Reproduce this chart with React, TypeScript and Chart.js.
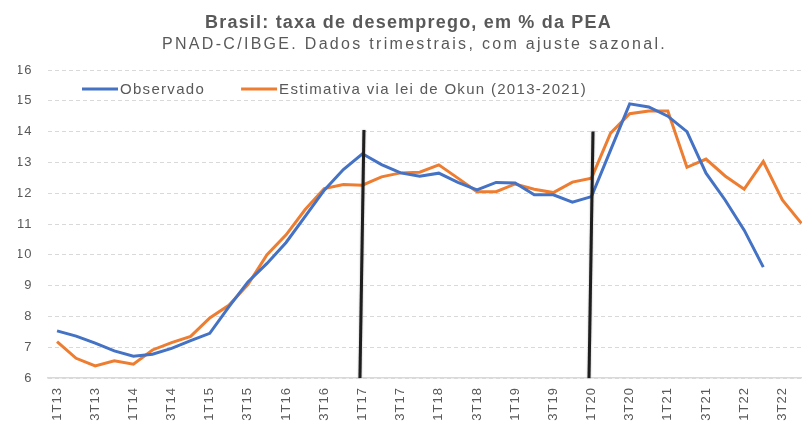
import React, { useEffect, useRef } from 'react';
import { Chart, registerables } from 'chart.js';

Chart.register(...registerables);

// ---------- data ----------
const quarters = [
  '1T13', '2T13', '3T13', '4T13',
  '1T14', '2T14', '3T14', '4T14',
  '1T15', '2T15', '3T15', '4T15',
  '1T16', '2T16', '3T16', '4T16',
  '1T17', '2T17', '3T17', '4T17',
  '1T18', '2T18', '3T18', '4T18',
  '1T19', '2T19', '3T19', '4T19',
  '1T20', '2T20', '3T20', '4T20',
  '1T21', '2T21', '3T21', '4T21',
  '1T22', '2T22', '3T22', '4T22',
];

const observado = [
  7.53, 7.36, 7.13, 6.88,
  6.71, 6.77, 6.96, 7.21,
  7.45, 8.31, 9.12, 9.72,
  10.4, 11.25, 12.1, 12.77,
  13.28, 12.93, 12.66, 12.55,
  12.65, 12.35, 12.11, 12.35,
  12.33, 11.95, 11.95, 11.71,
  11.89, 13.4, 14.9, 14.8,
  14.5, 14.0, 12.65, 11.78,
  10.8, 9.6,
];

const okun = [
  7.18, 6.64, 6.39, 6.56,
  6.45, 6.91, 7.15, 7.35,
  7.95, 8.36, 9.03, 10.0,
  10.65, 11.47, 12.15, 12.28,
  12.26, 12.53, 12.66, 12.68,
  12.92, 12.49, 12.05, 12.05,
  12.3, 12.13, 12.02, 12.36,
  12.49, 13.95, 14.58, 14.67,
  14.67, 12.84, 13.11, 12.56,
  12.13, 13.03, 11.78, 11.02,
];

const seriesNames = ['Observado', 'Estimativa via lei de Okun (2013-2021)'];
const titleText = 'Brasil: taxa de desemprego, em % da PEA';
const subtitleText = 'PNAD-C/IBGE. Dados trimestrais, com ajuste sazonal.';
const yMin = 6;
const yMax = 16;
const markerQuarters = ['1T17', '1T20'];
const markerTops = [14.05, 14.0];

// ---------- styles ----------
const FONT = '"Liberation Sans", Arial, Helvetica, sans-serif';
const TEXT = '#595959';
const GRID = '#d9d9d9';
const BLUE = '#4472C4';
const ORANGE = '#ED7D31';

const decorPlugin: any = {
  id: 'decor',
  beforeDraw(chart: any) {
    chart.ctx.letterSpacing = '1px';
  },
  afterDatasetsDraw(chart: any) {
    const { ctx } = chart;
    const x = chart.scales.x;
    const y = chart.scales.y;
    ctx.save();
    ctx.strokeStyle = '#1e1e1e';
    ctx.lineWidth = 3;
    ctx.lineCap = 'butt';
    ctx.shadowColor = 'rgba(0,0,0,0.35)';
    ctx.shadowBlur = 2;
    markerQuarters.forEach((q, i) => {
      const px = x.getPixelForValue(quarters.indexOf(q));
      ctx.beginPath();
      ctx.moveTo(px + 1.5, y.getPixelForValue(markerTops[i]));
      ctx.lineTo(px - 2.5, y.getPixelForValue(yMin));
      ctx.stroke();
    });
    ctx.restore();
  },
  afterDraw(chart: any) {
    const { ctx, chartArea } = chart;
    ctx.save();
    ctx.fillStyle = TEXT;
    ctx.textAlign = 'center';
    ctx.textBaseline = 'alphabetic';
    ctx.font = `bold 18px ${FONT}`;
    ctx.letterSpacing = '1.2px';
    ctx.fillText(titleText, chart.width / 2 + 3, 28);
    ctx.font = `16px ${FONT}`;
    ctx.letterSpacing = '2.3px';
    ctx.fillText(subtitleText, chart.width / 2 + 9, 48.5);

    // legend inside plot area
    let lx = chartArea.left + 34.5;
    const ly = chartArea.top + 19;
    ctx.font = `15px ${FONT}`;
    ctx.letterSpacing = '1.3px';
    ctx.textAlign = 'left';
    ctx.textBaseline = 'middle';
    chart.data.datasets.forEach((ds: any) => {
      ctx.strokeStyle = ds.borderColor;
      ctx.lineWidth = 3;
      ctx.beginPath();
      ctx.moveTo(lx, ly);
      ctx.lineTo(lx + 36, ly);
      ctx.stroke();
      ctx.fillStyle = TEXT;
      ctx.fillText(ds.label, lx + 38, ly + 0.5);
      lx += 38 + ctx.measureText(ds.label).width + 36;
    });
    ctx.restore();
  },
};

export default function App() {
  const ref = useRef<HTMLCanvasElement>(null);

  useEffect(() => {
    const canvas = ref.current;
    if (!canvas) return;
    const chart = new Chart(canvas, {
      type: 'line',
      data: {
        labels: quarters,
        datasets: [
          {
            label: seriesNames[0],
            data: observado,
            borderColor: BLUE,
            backgroundColor: BLUE,
            borderWidth: 3,
            pointRadius: 0,
            tension: 0,
            fill: false,
          },
          {
            label: seriesNames[1],
            data: okun,
            borderColor: ORANGE,
            backgroundColor: ORANGE,
            borderWidth: 3,
            pointRadius: 0,
            tension: 0,
            fill: false,
          },
        ],
      },
      options: {
        responsive: false,
        animation: false,
        devicePixelRatio: 1,
        layout: { padding: { top: 70, left: 18, right: 0, bottom: 0 } },
        plugins: {
          legend: { display: false },
          title: { display: false },
          tooltip: { enabled: false },
        },
        scales: {
          x: {
            type: 'category',
            offset: true,
            grid: { display: false, drawTicks: false },
            border: { display: true, color: GRID, width: 1.5 },
            ticks: {
              autoSkip: false,
              minRotation: 90,
              maxRotation: 90,
              padding: 9,
              color: TEXT,
              font: { family: FONT, size: 13 },
              callback: (_v: any, i: number) => (i % 2 === 0 ? quarters[i] : ''),
            },
            afterFit: (s: any) => {
              s.height = 44;
              s.paddingLeft = 0;
              s.paddingRight = 0;
            },
          },
          y: {
            min: yMin,
            max: yMax,
            grid: { color: GRID, drawTicks: false, lineWidth: 1 },
            border: { display: false, dash: [4, 3] },
            ticks: {
              stepSize: 1,
              padding: 15,
              color: TEXT,
              font: { family: FONT, size: 13 },
            },
            afterFit: (s: any) => {
              s.width = 29.5;
            },
          },
        },
      } as any,
      plugins: [decorPlugin],
    });
    return () => chart.destroy();
  }, []);

  return (
    <div
      style={{
        position: 'fixed',
        left: 0,
        top: 0,
        width: 802,
        height: 422,
        overflow: 'hidden',
        background: '#fff',
      }}
    >
      <canvas ref={ref} width={811} height={422} style={{ display: 'block', width: 811, height: 422 }} />
    </div>
  );
}
